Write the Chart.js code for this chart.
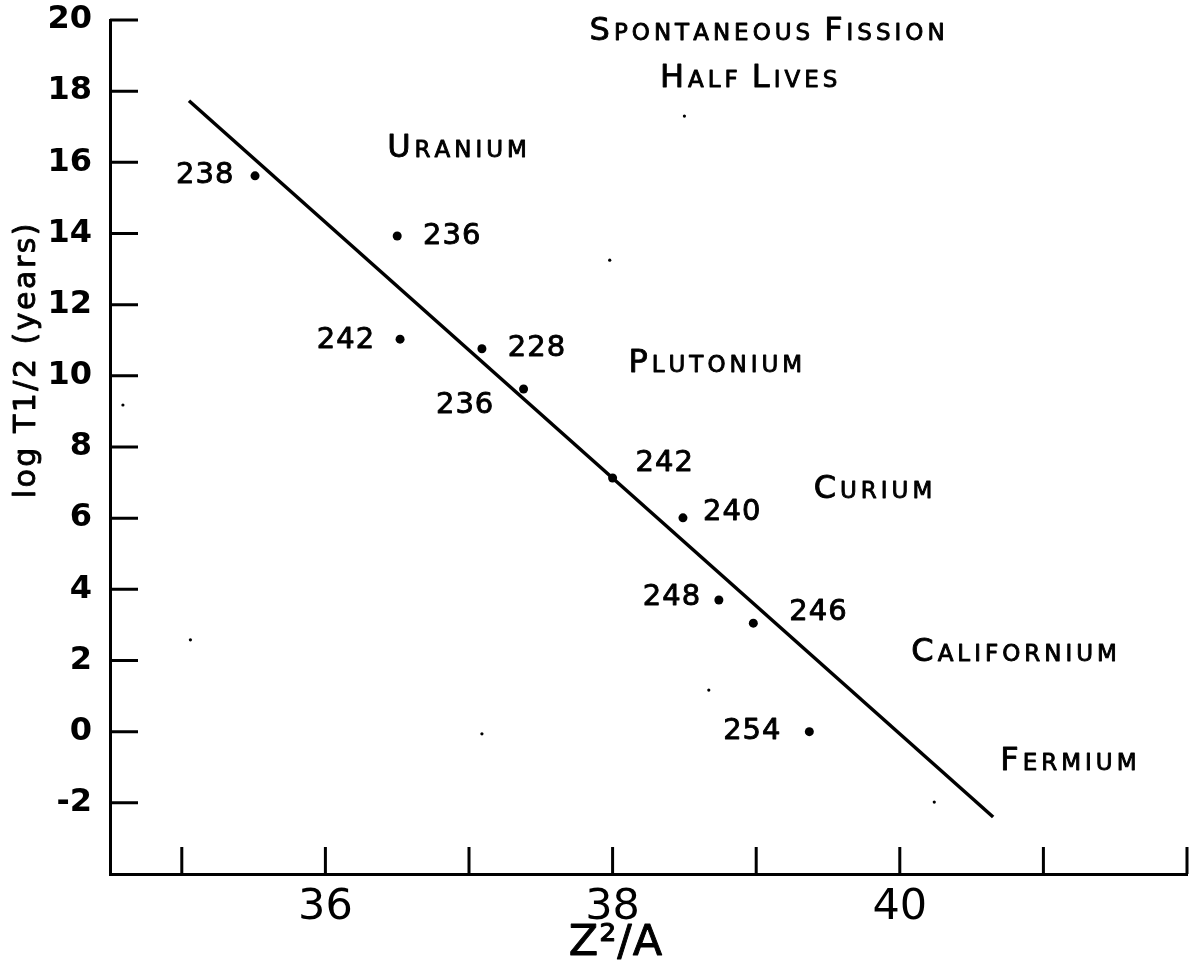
<!DOCTYPE html>
<html>
<head>
<meta charset="utf-8">
<title>Spontaneous Fission Half Lives</title>
<script src="https://cdn.jsdelivr.net/npm/chart.js@4.4.0/dist/chart.umd.min.js"></script>
<style>
    html, body { margin: 0; padding: 0; background: #fff; }
    #chart-div { width: 1196px; height: 972px; }
</style>
</head>
<body>
<div id="chart-div"><canvas id="myChart" width="1196" height="972"></canvas></div>
<script>
// isotopes: Z^2/A against log of the half life (years)
var massNumbers = ["238", "236", "242", "228", "236", "242", "240", "248", "246", "254"];
var z2OverA = [35.51, 36.50, 36.52, 37.09, 37.38, 38.00, 38.49, 38.74, 38.98, 39.37];
var logHalfLife = [15.62, 13.93, 11.03, 10.76, 9.63, 7.13, 6.01, 3.70, 3.05, 0.00];

// the straight line drawn through the points (its two ends)
var fitX = [35.05, 40.65];
var fitY = [17.73, -2.40];

// small specks left on the scan
var speckX = [37.98, 35.06, 37.09, 40.24, 38.50, 38.67, 34.59];
var speckY = [13.25, 2.58, -0.06, -1.98, 17.30, 1.17, 9.18];

// axis ticks
var xTicks = [35, 36, 37, 38, 39, 40, 41, 42];
var xTickLabels = ["", "36", "", "38", "", "40", "", ""];
var yTicks = [-2, 0, 2, 4, 6, 8, 10, 12, 14, 16, 18, 20];
var yTickLabels = ["-2", "0", "2", "4", "6", "8", "10", "12", "14", "16", "18", "20"];

// where the mass number labels sit (left edge, middle) in chart units
var labelX = [34.96, 36.68, 35.94, 37.27, 36.77, 38.16, 38.63, 38.21, 39.23, 38.77];
var labelY = [15.62, 13.93, 10.98, 10.78, 9.18, 7.55, 6.15, 3.76, 3.34, 0.00];

// element names and title (left edge, baseline) in chart units
var textLines = ["Spontaneous Fission", "Half Lives", "Uranium", "Plutonium", "Curium", "Californium", "Fermium"];
var textX = [37.84, 38.33, 36.43, 38.11, 39.40, 40.08, 40.70];
var textY = [19.44, 18.12, 16.15, 10.11, 6.57, 1.99, -1.07];

var FONT = "'DejaVu Sans', sans-serif";

function toPoints(xs, ys) {
    var pts = [];
    for (var i = 0; i < xs.length; i++) {
        pts.push({ x: xs[i], y: ys[i] });
    }
    return pts;
}

// draws text a letter at a time so the lettering can be spread out,
// with a thin outline to get the heavier pen stroke of the original
function spacedText(ctx, text, x, y, spacing) {
    var cx = x;
    for (var i = 0; i < text.length; i++) {
        ctx.fillText(text[i], cx, y);
        ctx.strokeText(text[i], cx, y);
        cx += ctx.measureText(text[i]).width + spacing;
    }
    return cx;
}

function spacedWidth(ctx, text, spacing) {
    var w = 0;
    for (var i = 0; i < text.length; i++) {
        w += ctx.measureText(text[i]).width + spacing;
    }
    return w - spacing;
}

// first letter of each word big, the rest small capitals
function smallCaps(ctx, text, x, y, bigSize, smallSize, spacing, wordGap) {
    var words = text.split(" ");
    var cx = x;
    for (var w = 0; w < words.length; w++) {
        var word = words[w].toUpperCase();
        ctx.font = bigSize + "px " + FONT;
        cx = spacedText(ctx, word[0], cx, y, spacing);
        ctx.font = smallSize + "px " + FONT;
        cx = spacedText(ctx, word.slice(1), cx, y, spacing);
        cx += wordGap;
    }
}

var overlay = {
    id: "overlay",
    afterDraw: function (chart) {
        var ctx = chart.ctx;
        var xs = chart.scales.x;
        var ys = chart.scales.y;
        var area = chart.chartArea;
        ctx.save();
        ctx.strokeStyle = "#000";
        ctx.fillStyle = "#000";
        ctx.lineWidth = 3;

        // tick marks point into the plot
        ctx.beginPath();
        for (var i = 0; i < yTicks.length; i++) {
            var py = ys.getPixelForValue(yTicks[i]);
            ctx.moveTo(area.left, py);
            ctx.lineTo(area.left + 28, py);
        }
        for (var j = 0; j < xTicks.length; j++) {
            var px = xs.getPixelForValue(xTicks[j]);
            ctx.moveTo(px, area.bottom);
            ctx.lineTo(px, area.bottom - 27);
        }
        ctx.stroke();

        ctx.lineWidth = 0.9;
        ctx.lineJoin = "round";

        // mass numbers next to the points
        ctx.font = "29px " + FONT;
        ctx.textAlign = "left";
        ctx.textBaseline = "middle";
        for (var k = 0; k < massNumbers.length; k++) {
            spacedText(ctx, massNumbers[k], xs.getPixelForValue(labelX[k]), ys.getPixelForValue(labelY[k]), 1);
        }

        // element names and title
        ctx.textBaseline = "alphabetic";
        for (var m = 0; m < textLines.length; m++) {
            smallCaps(ctx, textLines[m], xs.getPixelForValue(textX[m]), ys.getPixelForValue(textY[m]), 32, 23, 4, 10);
        }

        // axis titles
        ctx.save();
        ctx.translate(35, ys.getPixelForValue(10.42));
        ctx.rotate(-Math.PI / 2);
        ctx.font = "30px " + FONT;
        var title = "log T1/2 (years)";
        spacedText(ctx, title, -spacedWidth(ctx, title, 2.5) / 2, 0, 2.5);
        ctx.restore();

        ctx.font = "43px " + FONT;
        ctx.textBaseline = "middle";
        var xTitle = "Z\u00B2/A";
        spacedText(ctx, xTitle, xs.getPixelForValue(38.02) - spacedWidth(ctx, xTitle, 1) / 2, 944, 1);
        ctx.restore();
    }
};

var ctx = document.getElementById("myChart").getContext("2d");
var chart = new Chart(ctx, {
    type: "scatter",
    data: {
        datasets: [{
            label: "Isotopes",
            data: toPoints(z2OverA, logHalfLife),
            backgroundColor: "#000",
            borderColor: "#000",
            pointRadius: 4.5,
            pointBorderWidth: 0
        }, {
            label: "Trend",
            data: toPoints(fitX, fitY),
            showLine: true,
            borderColor: "#000",
            borderWidth: 3.5,
            pointRadius: 0
        }, {
            label: "Specks",
            data: toPoints(speckX, speckY),
            backgroundColor: "#000",
            pointRadius: 1.6,
            pointBorderWidth: 0
        }]
    },
    options: {
        responsive: false,
        animation: false,
        layout: { padding: { top: 20, right: 9, left: 0, bottom: 0 } },
        plugins: {
            legend: { display: false },
            tooltip: { enabled: false }
        },
        scales: {
            x: {
                type: "linear",
                min: 34.5,
                max: 42,
                afterBuildTicks: function (scale) {
                    scale.ticks = xTicks.map(function (v) { return { value: v }; });
                },
                afterFit: function (scale) {
                    scale.height = 98;
                    scale.paddingLeft = 0;
                    scale.paddingRight = 0;
                },
                grid: { display: false, drawTicks: false },
                border: { display: true, color: "#000", width: 3 },
                ticks: {
                    color: "#000",
                    padding: 8,
                    maxRotation: 0,
                    autoSkip: false,
                    font: { family: FONT, size: 43 },
                    callback: function (value) {
                        var i = xTicks.indexOf(value);
                        return i >= 0 ? xTickLabels[i] : "";
                    }
                }
            },
            y: {
                type: "linear",
                min: -4,
                max: 20,
                afterBuildTicks: function (scale) {
                    scale.ticks = yTicks.map(function (v) { return { value: v }; });
                },
                afterFit: function (scale) {
                    // the label padding would otherwise push the top of the axis down
                    scale.width = 110;
                    scale.paddingTop = 0;
                    scale.paddingBottom = 0;
                },
                grid: { display: false, drawTicks: false },
                border: { display: true, color: "#000", width: 3 },
                ticks: {
                    color: "#000",
                    padding: 18,
                    autoSkip: false,
                    font: { family: FONT, size: 32, weight: "bold" },
                    callback: function (value) {
                        var i = yTicks.indexOf(value);
                        return i >= 0 ? yTickLabels[i] : "";
                    }
                }
            }
        }
    },
    plugins: [overlay]
});
</script>
</body>
</html>
